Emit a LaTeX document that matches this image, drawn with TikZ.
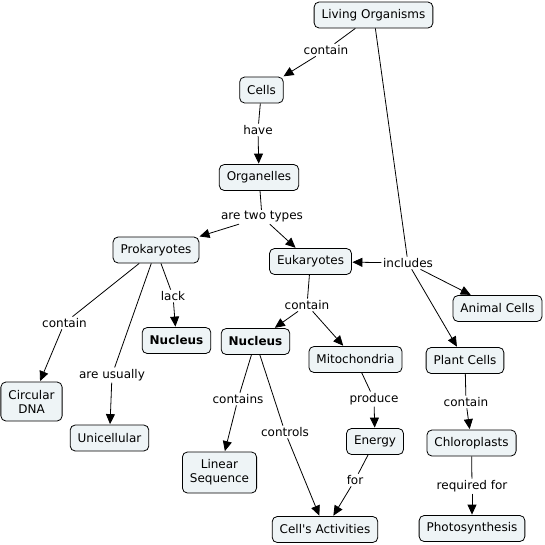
\documentclass[tikz,border=0pt]{standalone}
\usepackage{fontspec}
\setmainfont{DejaVu Sans}
\usetikzlibrary{arrows.meta}
\definecolor{boxfill}{RGB}{238,244,246}
\tikzset{
  concept/.style={draw=black, line width=0.8pt, fill=boxfill, rounded corners=5pt,
    inner xsep=7.5pt, inner ysep=2pt, minimum height=26pt, align=center,
    font=\fontsize{12}{14}\selectfont},
  lbl/.style={inner sep=1.5pt, font=\fontsize{12}{14}\selectfont},
  link/.style={line width=0.8pt, draw=black},
  arr/.style={line width=0.8pt, draw=black, -{Triangle[length=10pt,width=9pt]}, shorten >=0.5pt}
}
\begin{document}
\begin{tikzpicture}[x=1pt,y=-1pt]
\useasboundingbox (0,0) rectangle (545,544);
% concepts
\node[concept] (lo) at (373.5,15) {Living Organisms};
\node[concept] (cells) at (261.5,90) {Cells};
\node[concept] (org) at (259,177.5) {Organelles};
\node[concept] (pro) at (156,250) {Prokaryotes};
\node[concept] (euk) at (310.5,261.5) {Eukaryotes};
\node[concept] (ani) at (497.5,308.5) {Animal Cells};
\node[concept] (nuc1) at (176.5,340.5) {\textbf{Nucleus}};
\node[concept] (nuc2) at (255.5,341.5) {\textbf{Nucleus}};
\node[concept] (mit) at (355.5,359.5) {Mitochondria};
\node[concept] (pla) at (465,360.5) {Plant Cells};
\node[concept, minimum height=39pt] (cdna) at (31.5,401.5) {Circular\\DNA};
\node[concept] (uni) at (109.5,438) {Unicellular};
\node[concept] (ene) at (375,441.5) {Energy};
\node[concept] (chl) at (471.5,443) {Chloroplasts};
\node[concept, minimum height=41pt] (lin) at (219.5,472.5) {Linear\\Sequence};
\node[concept] (act) at (325,529.5) {Cell\textquotesingle s Activities};
\node[concept] (pho) at (472,528.5) {Photosynthesis};
% labels
\node[lbl] (l1) at (326,50) {contain};
\node[lbl] (l2) at (258,130) {have};
\node[lbl] (l3) at (262,217) {are two types};
\node[lbl] (l4) at (173,296) {lack};
\node[lbl] (l5) at (64.5,323) {contain};
\node[lbl] (l6) at (112,375) {are usually};
\node[lbl] (l7) at (408,263) {includes};
\node[lbl] (l8) at (307,305) {contain};
\node[lbl] (l9) at (238,399) {contains};
\node[lbl] (l10) at (285,432) {controls};
\node[lbl] (l11) at (374,399) {produce};
\node[lbl] (l12) at (466,402) {contain};
\node[lbl] (l13) at (355,480) {for};
\node[lbl] (l14) at (472,486) {required for};
% links
\draw[link] (lo) -- (l1); \draw[arr] (l1) -- (cells);
\draw[link] (cells) -- (l2); \draw[arr] (l2) -- (org);
\draw[link] (org) -- (l3); \draw[arr] (l3) -- (pro); \draw[arr] (l3) -- (euk);
\draw[link] (pro) -- (l4); \draw[arr] (l4) -- (nuc1);
\draw[link] (pro) -- (l5); \draw[arr] (l5) -- (cdna);
\draw[link] (pro) -- (l6); \draw[arr] (l6) -- (uni);
\draw[link] (lo) -- (l7); \draw[arr] (l7) -- (euk); \draw[arr] (l7) -- (ani); \draw[arr] (l7) -- (pla);
\draw[link] (euk) -- (l8); \draw[arr] (l8) -- (nuc2); \draw[arr] (l8) -- (mit);
\draw[link] (nuc2) -- (l9); \draw[arr] (l9) -- (lin);
\draw[link] (nuc2) -- (l10); \draw[arr] (l10) -- (act);
\draw[link] (mit) -- (l11); \draw[arr] (l11) -- (ene);
\draw[link] (pla) -- (l12); \draw[arr] (l12) -- (chl);
\draw[link] (ene) -- (l13); \draw[arr] (l13) -- (act);
\draw[link] (chl) -- (l14); \draw[arr] (l14) -- (pho);
\end{tikzpicture}
\end{document}
